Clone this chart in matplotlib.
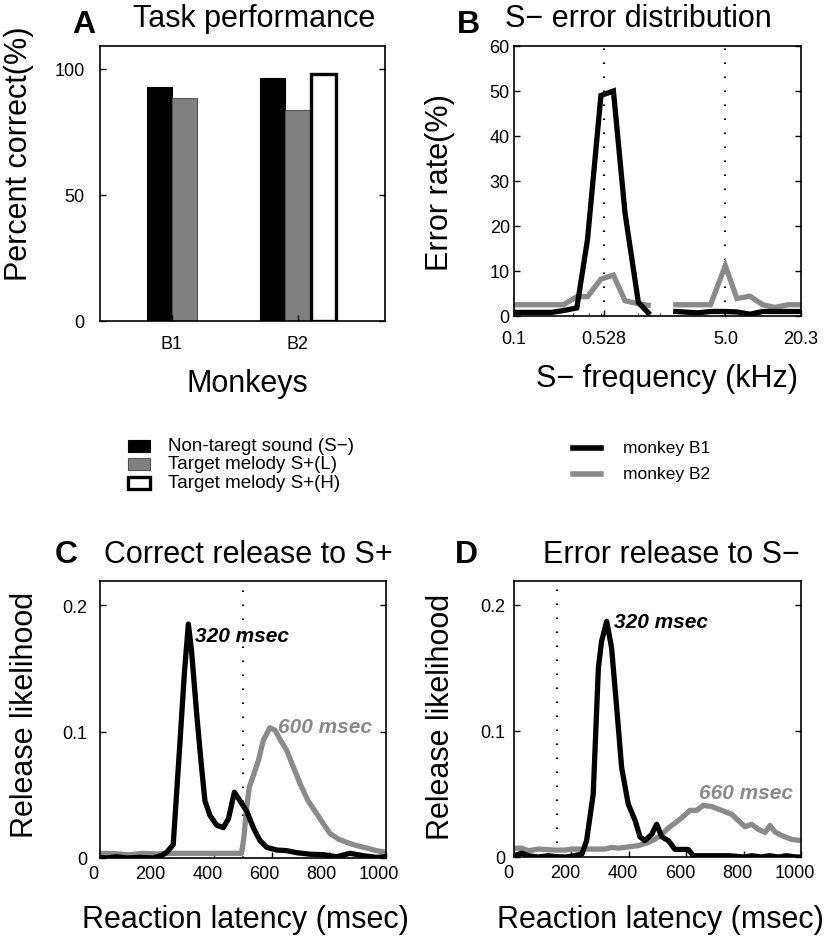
import numpy as np
import matplotlib
matplotlib.use("Agg")
from matplotlib import pyplot as plt
from matplotlib.patches import Rectangle
from matplotlib.lines import Line2D
from matplotlib.ticker import NullFormatter, FixedLocator
from matplotlib.transforms import ScaledTranslation

plt.rcParams['font.family'] = ['Liberation Sans', 'DejaVu Sans']

W, H = 827, 937

# ---- panel A: task performance
monkeys = ['B1', 'B2']
perf_series = ['Non-taregt sound (S\u2212)', 'Target melody S+(L)', 'Target melody S+(H)']
perf_b1 = [92.9, 88.4, np.nan]
perf_b2 = [96.4, 83.7, 98.0]

# ---- panel B: S- error distribution (kHz, %)
freq_low = [0.1, 0.2, 0.25, 0.32, 0.39, 0.5, 0.63, 0.78, 1.0, 1.2]
err_b1_low = [0.8, 0.8, 1.2, 1.8, 17.0, 49.0, 50.0, 23.0, 3.0, 0.7]
err_b2_low = [2.5, 2.5, 2.5, 4.3, 4.3, 8.2, 9.1, 3.4, 2.7, 2.4]
freq_high = [2.0, 3.0, 3.8, 5.0, 6.2, 7.9, 10.0, 12.5, 16.0, 20.3]
err_b1_high = [1.0, 0.7, 1.0, 1.0, 0.9, 0.4, 1.0, 1.0, 1.0, 1.0]
err_b2_high = [2.5, 2.5, 2.5, 11.2, 3.9, 4.4, 2.5, 1.9, 2.5, 2.5]
freq_marks = [0.528, 5.0]
freq_ticks = [0.1, 0.528, 5.0, 20.3]
freq_labels = ['0.1', '0.528', '5.0', '20.3']

# ---- panel C: correct release to S+ (msec, likelihood)
c_b1_t = [0, 23, 58, 93, 140, 186, 216, 233, 256, 280, 295, 309, 320, 338, 355, 367,
          385, 408, 431, 449, 470, 490, 513, 536, 559, 583, 618, 653, 688, 734, 781,
          828, 874, 921, 967, 1000]
c_b1_p = [0.0005, 0.0, 0.001, 0.0, 0.0005, 0.0, 0.002, 0.0045, 0.0105, 0.093, 0.146,
          0.185, 0.164, 0.114, 0.072, 0.045, 0.0335, 0.026, 0.024, 0.031, 0.052, 0.045,
          0.037, 0.024, 0.014, 0.0084, 0.0063, 0.0058, 0.0042, 0.003, 0.0026, 0.001,
          0.0037, 0.0018, 0.0005, 0.001]
c_b2_t = [0, 50, 100, 150, 200, 250, 300, 400, 495, 503, 513, 522, 536, 554, 571, 594,
          612, 629, 653, 676, 699, 728, 758, 781, 804, 833, 862, 897, 932, 967, 1000]
c_b2_p = [0.0037, 0.0035, 0.0025, 0.0037, 0.0032, 0.0037, 0.0037, 0.0037, 0.0037,
          0.016, 0.040, 0.056, 0.065, 0.077, 0.093, 0.103, 0.101, 0.094, 0.085, 0.072,
          0.059, 0.045, 0.035, 0.027, 0.0195, 0.015, 0.0124, 0.0098, 0.0079, 0.0058,
          0.0045]
c_mark = 500

# ---- panel D: error release to S-
d_b1_t = [0, 27, 50, 85, 120, 143, 180, 210, 237, 253, 276, 294, 305, 323, 340, 358,
          375, 398, 422, 439, 456, 480, 497, 515, 538, 561, 584, 607, 625, 660, 700,
          750, 800, 830, 860, 890, 920, 950, 980, 1000]
d_b1_p = [0.001, 0.003, 0.001, 0.0, 0.001, 0.0003, 0.0, 0.001, 0.0025, 0.013, 0.05,
          0.15, 0.171, 0.187, 0.166, 0.118, 0.071, 0.042, 0.029, 0.016, 0.013, 0.018,
          0.026, 0.016, 0.013, 0.006, 0.006, 0.006, 0.001, 0.001, 0.001, 0.001, 0.0,
          0.001, 0.0, 0.001, 0.0, 0.001, 0.0, 0.0]
d_b2_t = [0, 27, 50, 85, 143, 178, 201, 236, 317, 340, 364, 398, 433, 468, 491, 515,
          538, 561, 584, 613, 636, 660, 689, 724, 758, 781, 805, 828, 851, 875, 892,
          909, 933, 967, 1000]
d_b2_p = [0.007, 0.007, 0.005, 0.0063, 0.0055, 0.0055, 0.0063, 0.0063, 0.0063, 0.0076,
          0.007, 0.008, 0.009, 0.0116, 0.014, 0.018, 0.023, 0.027, 0.031, 0.037, 0.037,
          0.041, 0.040, 0.037, 0.034, 0.029, 0.024, 0.026, 0.022, 0.0195, 0.025, 0.020,
          0.017, 0.014, 0.013]
d_mark = 150

GRAY = '#8a8a8a'
LW = 3.8
TICK_FS = 13


def fx(px):
    return px / W


def fy(py):
    return 1 - py / H


def box(l, t, r, b):
    return [fx(l), fy(b), (r - l) / W, (b - t) / H]


def style_axes(ax, xpad, ypad):
    ax.tick_params(direction='in', length=4, width=1, labelsize=TICK_FS, right=True,
                   top=False)
    ax.tick_params(axis='x', pad=xpad)
    ax.tick_params(axis='y', pad=ypad)
    for s in ax.spines.values():
        s.set_linewidth(1.2)


def dotted(ax, x):
    # sparse dots, about one every 14 px
    ax.axvline(x, color='black', lw=1.6, linestyle=(0, (0.7, 5.6)), zorder=1)


fig = plt.figure(figsize=(W / 100, H / 100), dpi=100)

# ---------------- A
axA = fig.add_axes(box(100, 47, 385, 322))
bw = 0.2
bar_styles = [dict(color='black', edgecolor='black', linewidth=0.8),
              dict(color='#808080', edgecolor='#555555', linewidth=0.8),
              dict(color='white', edgecolor='black', linewidth=2.4)]
for gi, vals in enumerate([perf_b1, perf_b2]):
    idx = [i for i, v in enumerate(vals) if not np.isnan(v)]
    offs = (np.arange(len(idx)) - (len(idx) - 1) / 2) * bw
    for o, i in zip(offs, idx):
        axA.bar(gi + 1 + o, vals[i], width=bw, **bar_styles[i])
axA.set_xlim(0.43, 2.69)
axA.set_ylim(0, 109)
axA.set_xticks([1, 2])
axA.set_xticklabels(monkeys)
axA.set_yticks([0, 50, 100])
style_axes(axA, 10, 11)

# ---------------- B
axB = fig.add_axes(box(514, 47, 801, 317))
axB.set_xscale('log')
for f in freq_marks:
    dotted(axB, f)
axB.plot(freq_low, err_b2_low, color=GRAY, lw=LW, solid_joinstyle='miter')
axB.plot(freq_high, err_b2_high, color=GRAY, lw=LW, solid_joinstyle='miter')
axB.plot(freq_low, err_b1_low, color='black', lw=LW, solid_joinstyle='miter')
axB.plot(freq_high, err_b1_high, color='black', lw=LW, solid_joinstyle='miter')
axB.set_xlim(0.1, 20.3)
axB.set_ylim(0, 60)
axB.set_xticks(freq_ticks)
axB.set_xticklabels(freq_labels)
axB.xaxis.set_minor_locator(FixedLocator([0.3, 0.4, 0.5, 1.0, 1.5]))
axB.xaxis.set_minor_formatter(NullFormatter())
axB.set_yticks(np.arange(0, 61, 10))
style_axes(axB, 10, 3)
axB.tick_params(which='minor', direction='in', length=2.5, width=0.8, top=False)

# ---------------- C
axC = fig.add_axes(box(100, 582, 386, 859))
dotted(axC, c_mark)
axC.plot(c_b2_t, c_b2_p, color=GRAY, lw=LW)
axC.plot(c_b1_t, c_b1_p, color='black', lw=LW)
axC.text(332, 0.176, '320 msec', fontsize=15, fontweight='bold', style='italic',
         va='center', ha='left', color='black')
axC.text(623, 0.104, '600 msec', fontsize=15, fontweight='bold', style='italic',
         va='center', ha='left', color=GRAY)

# ---------------- D
axD = fig.add_axes(box(514, 582, 801, 858))
dotted(axD, d_mark)
axD.plot(d_b2_t, d_b2_p, color=GRAY, lw=LW)
axD.plot(d_b1_t, d_b1_p, color='black', lw=LW)
axD.text(350, 0.187, '320 msec', fontsize=15, fontweight='bold', style='italic',
         va='center', ha='left', color='black')
axD.text(646, 0.051, '660 msec', fontsize=15, fontweight='bold', style='italic',
         va='center', ha='left', color=GRAY)

for ax, ypad, shift in [(axC, 9, -7), (axD, 6, -6)]:
    ax.set_xlim(0, 1000)
    ax.set_ylim(0, 0.219)
    ax.set_xticks(np.arange(0, 1001, 200))
    ax.set_yticks([0, 0.1, 0.2])
    ax.set_yticklabels(['0', '0.1', '0.2'])
    style_axes(ax, 5, ypad)
    off = ScaledTranslation(shift / 100, 0, fig.dpi_scale_trans)
    for lab in ax.get_xticklabels():
        lab.set_transform(lab.get_transform() + off)

# ---------------- titles, panel letters, axis labels
letters = [('A', 72, 33), ('B', 457, 33), ('C', 55, 563), ('D', 455, 563)]
for t, x, y in letters:
    fig.text(fx(x), fy(y), t, fontsize=23, fontweight='bold', va='baseline', ha='left')

titles = [('Task performance', 133, 27), ('S\u2212 error distribution', 505, 27),
          ('Correct release to S+', 104, 563), ('Error release to S\u2212', 543, 563)]
for t, x, y in titles:
    fig.text(fx(x), fy(y), t, fontsize=22, va='baseline', ha='left')

ylabels = [('Percent correct(%)', 27, 154), ('Error rate(%)', 448, 183),
           ('Release likelihood', 33, 715), ('Release likelihood', 449, 717)]
for t, x, y in ylabels:
    fig.text(fx(x), fy(y), t, fontsize=22, rotation=90, rotation_mode='anchor',
             ha='center', va='baseline')

xlabels = [('Monkeys', 247, 392), ('S\u2212 frequency (kHz)', 667, 387),
           ('Reaction latency (msec)', 245, 928), ('Reaction latency (msec)', 660, 928)]
for t, x, y in xlabels:
    fig.text(fx(x), fy(y), t, fontsize=22, va='baseline', ha='center')

# ---------------- legends
rows_a = [446.5, 464.5, 483.5]
for i, (lab, st) in enumerate(zip(perf_series, bar_styles)):
    yc = rows_a[i]
    fig.add_artist(Rectangle((fx(128), fy(yc + 6)), 22 / W, 12 / H,
                             facecolor=st['color'], edgecolor=st['edgecolor'],
                             linewidth=st['linewidth'], transform=fig.transFigure))
    fig.text(fx(168), fy(yc), lab, fontsize=13.5, va='center', ha='left')

for yc, lab, col in [(449, 'monkey B1', 'black'), (475, 'monkey B2', GRAY)]:
    fig.add_artist(Line2D([fx(573), fx(601)], [fy(yc), fy(yc)], color=col, lw=4,
                          transform=fig.transFigure))
    fig.text(fx(623), fy(yc), lab, fontsize=12.5, va='center', ha='left')

fig.savefig('out.png', dpi=100)
